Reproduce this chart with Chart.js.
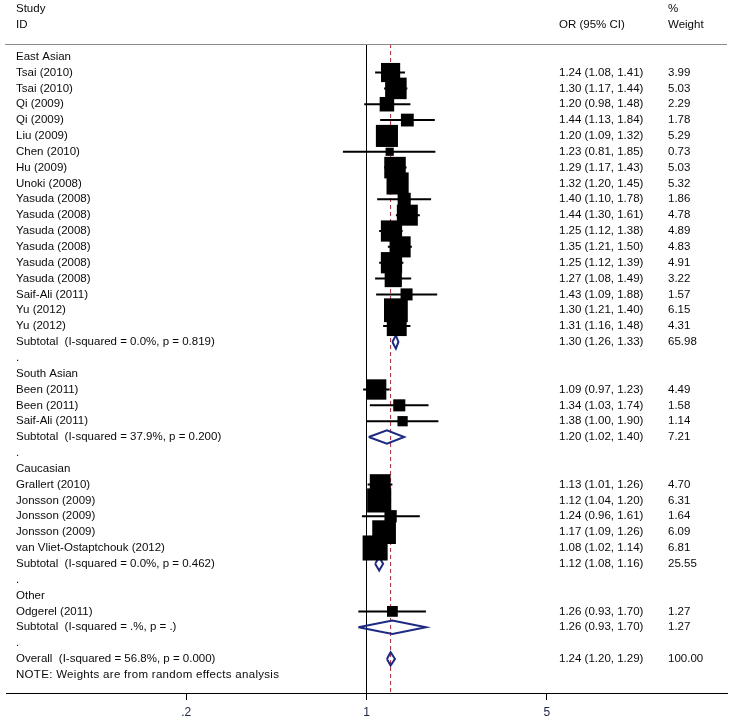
<!DOCTYPE html>
<html>
<head>
<meta charset="utf-8">
<script src="https://cdn.jsdelivr.net/npm/chart.js@4/dist/chart.umd.min.js"></script>
<style>
  html, body { margin: 0; padding: 0; background: #ffffff; }
  #wrap { width: 731px; height: 724px; position: relative; }
</style>
</head>
<body>
<div id="wrap"><canvas id="c" width="731" height="724"></canvas></div>
<script>
// ---------- DATA ----------
const rowLabels = [
  'East Asian',
  'Tsai (2010)', 'Tsai (2010)', 'Qi (2009)', 'Qi (2009)', 'Liu (2009)', 'Chen (2010)',
  'Hu (2009)', 'Unoki (2008)', 'Yasuda (2008)', 'Yasuda (2008)', 'Yasuda (2008)',
  'Yasuda (2008)', 'Yasuda (2008)', 'Yasuda (2008)', 'Saif-Ali (2011)', 'Yu (2012)', 'Yu (2012)',
  'Subtotal  (I-squared = 0.0%, p = 0.819)',
  '.',
  'South Asian',
  'Been (2011)', 'Been (2011)', 'Saif-Ali (2011)',
  'Subtotal  (I-squared = 37.9%, p = 0.200)',
  '.',
  'Caucasian',
  'Grallert (2010)', 'Jonsson (2009)', 'Jonsson (2009)', 'Jonsson (2009)', 'van Vliet-Ostaptchouk (2012)',
  'Subtotal  (I-squared = 0.0%, p = 0.462)',
  '.',
  'Other',
  'Odgerel (2011)',
  'Subtotal  (I-squared = .%, p = .)',
  '.',
  'Overall  (I-squared = 56.8%, p = 0.000)',
  'NOTE: Weights are from random effects analysis'
];
// row kind: h = group header, s = study, d = pooled (diamond), b = blank/period, n = note
const rowKinds = [
  'h',
  's','s','s','s','s','s','s','s','s','s','s','s','s','s','s','s','s',
  'd','b',
  'h','s','s','s','d','b',
  'h','s','s','s','s','s','d','b',
  'h','s','d','b',
  'd','n'
];
const orEst = [
  null,
  1.24, 1.30, 1.20, 1.44, 1.20, 1.23, 1.29, 1.32, 1.40, 1.44, 1.25, 1.35, 1.25, 1.27, 1.43, 1.30, 1.31,
  1.30, null,
  null, 1.09, 1.34, 1.38, 1.20, null,
  null, 1.13, 1.12, 1.24, 1.17, 1.08, 1.12, null,
  null, 1.26, 1.26, null,
  1.24, null
];
const ciLow = [
  null,
  1.08, 1.17, 0.98, 1.13, 1.09, 0.81, 1.17, 1.20, 1.10, 1.30, 1.12, 1.21, 1.12, 1.08, 1.09, 1.21, 1.16,
  1.26, null,
  null, 0.97, 1.03, 1.00, 1.02, null,
  null, 1.01, 1.04, 0.96, 1.09, 1.02, 1.08, null,
  null, 0.93, 0.93, null,
  1.20, null
];
const ciHigh = [
  null,
  1.41, 1.44, 1.48, 1.84, 1.32, 1.85, 1.43, 1.45, 1.78, 1.61, 1.38, 1.50, 1.39, 1.49, 1.88, 1.40, 1.48,
  1.33, null,
  null, 1.23, 1.74, 1.90, 1.40, null,
  null, 1.26, 1.20, 1.61, 1.26, 1.14, 1.16, null,
  null, 1.70, 1.70, null,
  1.29, null
];
const weights = [
  null,
  3.99, 5.03, 2.29, 1.78, 5.29, 0.73, 5.03, 5.32, 1.86, 4.78, 4.89, 4.83, 4.91, 3.22, 1.57, 6.15, 4.31,
  65.98, null,
  null, 4.49, 1.58, 1.14, 7.21, null,
  null, 4.70, 6.31, 1.64, 6.09, 6.81, 25.55, null,
  null, 1.27, 1.27, null,
  100.00, null
];
const xTicks = [0.2, 1, 5];
const xTickLabels = ['.2', '1', '5'];
const headerLeft = ['Study', 'ID'];
const headerOR = 'OR (95% CI)';
const headerWeight = ['%', 'Weight'];

// ---------- STYLE / LAYOUT ----------
const X_MIN = 0.04, X_MAX = 25;
const Y_TOP = -0.8, Y_BOTTOM = 40.15;
const BOX_SCALE = 9.6;       // box side in px per sqrt(weight)
const DIAMOND_HALF = 0.42;   // diamond half height in row units
const FONT = '11.5px "Liberation Sans", Arial, sans-serif';
const TEXT_COLOR = '#0a0a0a';
const COL_LABEL = 16, COL_OR = 559, COL_W = 668;

const overallIdx = rowKinds.lastIndexOf('d');

// ---------- DERIVED DATASETS ----------
const studyIdx = rowKinds.map((k, i) => k === 's' ? i : -1).filter(i => i >= 0);
const boxPoints = studyIdx.map(i => ({ x: orEst[i], y: i, w: weights[i] }));
const ciPoints = [];
studyIdx.forEach(i => {
  ciPoints.push({ x: ciLow[i], y: i }, { x: ciHigh[i], y: i }, { x: null, y: null });
});
const diamondPoints = [];
rowKinds.forEach((k, i) => {
  if (k !== 'd') return;
  diamondPoints.push(
    { x: ciLow[i], y: i },
    { x: orEst[i], y: i - DIAMOND_HALF },
    { x: ciHigh[i], y: i },
    { x: orEst[i], y: i + DIAMOND_HALF },
    { x: ciLow[i], y: i },
    { x: null, y: null }
  );
});

const textPlugin = {
  id: 'forestText',
  afterDraw(chart) {
    const { ctx, chartArea, scales: { y } } = chart;
    ctx.save();
    // top rule
    ctx.strokeStyle = '#8a8a8a';
    ctx.lineWidth = 1;
    ctx.beginPath();
    ctx.moveTo(chartArea.left - 1, Math.round(chartArea.top) + 0.5);
    ctx.lineTo(chartArea.right, Math.round(chartArea.top) + 0.5);
    ctx.stroke();

    ctx.font = FONT;
    ctx.fillStyle = TEXT_COLOR;
    ctx.textBaseline = 'middle';
    ctx.textAlign = 'left';
    ctx.fillText(headerLeft[0], COL_LABEL, y.getPixelForValue(-3));
    ctx.fillText(headerLeft[1], COL_LABEL, y.getPixelForValue(-2));
    ctx.fillText(headerOR, COL_OR, y.getPixelForValue(-2));
    ctx.fillText(headerWeight[0], COL_W, y.getPixelForValue(-3));
    ctx.fillText(headerWeight[1], COL_W, y.getPixelForValue(-2));

    rowLabels.forEach((t, i) => {
      const py = y.getPixelForValue(i);
      if (rowKinds[i] === 'n') {
        ctx.save();
        ctx.letterSpacing = '0.3px';
        ctx.fillText(t, COL_LABEL, py);
        ctx.restore();
      } else {
        ctx.fillText(t, COL_LABEL, py);
      }
      if (orEst[i] != null) {
        ctx.fillText(orEst[i].toFixed(2) + ' (' + ciLow[i].toFixed(2) + ', ' + ciHigh[i].toFixed(2) + ')', COL_OR, py);
        ctx.fillText(weights[i].toFixed(2), COL_W, py);
      }
    });
    ctx.restore();
  }
};

new Chart(document.getElementById('c'), {
  type: 'scatter',
  data: {
    datasets: [
      {
        label: 'Studies',
        data: boxPoints,
        pointStyle: 'rect',
        backgroundColor: '#000000',
        borderWidth: 0,
        pointRadius: (c) => c.raw ? BOX_SCALE * Math.sqrt(c.raw.w) / Math.SQRT2 : 0,
        pointHoverRadius: (c) => c.raw ? BOX_SCALE * Math.sqrt(c.raw.w) / Math.SQRT2 : 0,
        order: 0
      },
      {
        label: 'Pooled',
        data: diamondPoints,
        showLine: true,
        borderColor: '#1d2a82',
        borderWidth: 2,
        borderJoinStyle: 'miter',
        pointRadius: 0,
        fill: false,
        spanGaps: false,
        order: 1
      },
      {
        label: 'CI',
        data: ciPoints,
        showLine: true,
        borderColor: '#000000',
        borderWidth: 2,
        borderCapStyle: 'butt',
        pointRadius: 0,
        spanGaps: false,
        order: 2
      },
      {
        label: 'Null',
        data: [{ x: 1, y: Y_TOP }, { x: 1, y: Y_BOTTOM }],
        showLine: true,
        borderColor: '#000000',
        borderWidth: 1,
        pointRadius: 0,
        order: 3
      },
      {
        label: 'Overall',
        data: [{ x: orEst[overallIdx], y: Y_TOP }, { x: orEst[overallIdx], y: Y_BOTTOM }],
        showLine: true,
        borderColor: '#b0283c',
        borderWidth: 1,
        borderDash: [4, 3],
        pointRadius: 0,
        order: 4
      }
    ]
  },
  options: {
    responsive: false,
    animation: false,
    events: [],
    layout: { autoPadding: false, padding: { left: 6, right: 4, top: 44, bottom: 0 } },
    plugins: { legend: { display: false }, tooltip: { enabled: false } },
    scales: {
      x: {
        type: 'logarithmic',
        position: 'bottom',
        min: X_MIN,
        max: X_MAX,
        afterBuildTicks: (scale) => { scale.ticks = xTicks.map(v => ({ value: v })); },
        afterFit: (scale) => { scale.height = 31; },
        grid: { display: true, drawOnChartArea: false, drawTicks: true, tickLength: 7, color: '#000000', lineWidth: 1 },
        border: { display: true, color: '#000000', width: 1 },
        ticks: {
          autoSkip: false,
          maxRotation: 0,
          padding: 5,
          color: '#1b2541',
          font: { family: '"Liberation Sans", Arial, sans-serif', size: 12 },
          callback: (v, i) => xTickLabels[i]
        }
      },
      y: {
        type: 'linear',
        display: false,
        reverse: true,
        min: Y_TOP,
        max: Y_BOTTOM
      }
    }
  },
  plugins: [textPlugin]
});
</script>
</body>
</html>
